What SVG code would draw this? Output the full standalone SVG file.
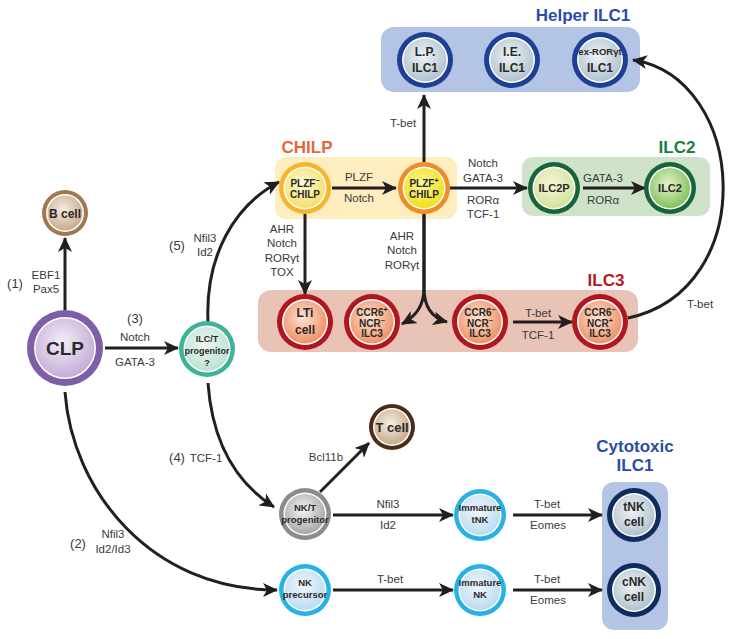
<svg xmlns="http://www.w3.org/2000/svg" width="743" height="639" viewBox="0 0 743 639">
<defs>
<style>
.lbl{font-family:"Liberation Sans",Arial,sans-serif;font-size:11.5px;fill:#3a3a3a;text-anchor:middle}
.num{font-family:"Liberation Sans",Arial,sans-serif;font-size:13px;fill:#3a3a3a;text-anchor:middle}
.nd{font-family:"Liberation Sans",Arial,sans-serif;font-weight:bold;fill:#2a2a2a;text-anchor:middle}
.ttl{font-family:"Liberation Sans",Arial,sans-serif;font-weight:bold;font-size:17px;text-anchor:middle}
.con{fill:none;stroke:#231f20;stroke-width:3}
.sup{font-size:7px}
</style>
<marker id="ah" markerUnits="userSpaceOnUse" markerWidth="16" markerHeight="14" refX="14" refY="7" orient="auto">
<path d="M0,0 L15,7 L0,14 L4,7 z" fill="#231f20"/>
</marker>
<radialGradient id="gHelp" cx="45%" cy="40%" r="60%"><stop offset="0" stop-color="#eef3f6"/><stop offset="1" stop-color="#b2c3ce"/></radialGradient>
<radialGradient id="gPm" cx="45%" cy="40%" r="60%"><stop offset="0" stop-color="#fefbdb"/><stop offset="1" stop-color="#f5df6a"/></radialGradient>
<radialGradient id="gPp" cx="45%" cy="40%" r="60%"><stop offset="0" stop-color="#fbf6a0"/><stop offset="1" stop-color="#f1e01a"/></radialGradient>
<radialGradient id="gI2p" cx="45%" cy="40%" r="60%"><stop offset="0" stop-color="#f8f7da"/><stop offset="1" stop-color="#d2e39c"/></radialGradient>
<radialGradient id="gI2" cx="45%" cy="40%" r="60%"><stop offset="0" stop-color="#e6f3cf"/><stop offset="1" stop-color="#83c25c"/></radialGradient>
<radialGradient id="gI3" cx="45%" cy="40%" r="60%"><stop offset="0" stop-color="#fde4d2"/><stop offset="1" stop-color="#ef9066"/></radialGradient>
<radialGradient id="gClp" cx="45%" cy="40%" r="60%"><stop offset="0" stop-color="#f3edf7"/><stop offset="1" stop-color="#c4afd8"/></radialGradient>
<radialGradient id="gIlct" cx="45%" cy="40%" r="60%"><stop offset="0" stop-color="#eff8f3"/><stop offset="1" stop-color="#bce1d3"/></radialGradient>
<radialGradient id="gBr" cx="45%" cy="40%" r="60%"><stop offset="0" stop-color="#f5eee5"/><stop offset="1" stop-color="#c8ab8a"/></radialGradient>
<radialGradient id="gGr" cx="45%" cy="40%" r="60%"><stop offset="0" stop-color="#f4f4f4"/><stop offset="1" stop-color="#a8a8a8"/></radialGradient>
<radialGradient id="gBl" cx="45%" cy="40%" r="60%"><stop offset="0" stop-color="#f0f7fc"/><stop offset="1" stop-color="#bcdcf1"/></radialGradient>
</defs>
<rect width="743" height="639" fill="#ffffff"/>

<!-- group boxes -->
<g id="boxes">
<rect x="381" y="27" width="259" height="65" rx="13" fill="#b3c4e5"/>
<rect x="275" y="157" width="182" height="62" rx="11" fill="#fdedbf"/>
<rect x="522" y="157" width="188" height="59" rx="11" fill="#cfe2ca"/>
<rect x="258" y="290" width="380" height="62" rx="13" fill="#e9c3b6"/>
<rect x="602" y="482" width="66" height="148" rx="12" fill="#b3c4e5"/>
<text class="ttl" x="583" y="21" fill="#2b4da3" font-size="16">Helper ILC1</text>
<text class="ttl" x="307" y="153" fill="#e8653a">CHILP</text>
<text class="ttl" x="677" y="153" fill="#17803d">ILC2</text>
<text class="ttl" x="606" y="286" fill="#b31b24">ILC3</text>
<text class="ttl" x="635" y="452" fill="#2b4da3" font-size="16">Cytotoxic</text>
<text class="ttl" x="635" y="471" fill="#2b4da3" font-size="16">ILC1</text>
</g>

<!-- connectors -->
<g id="connectors">
<path class="con" marker-end="url(#ah)" d="M65,310 L65,238"/>
<path class="con" marker-end="url(#ah)" d="M105,348 L178,348"/>
<path class="con" marker-end="url(#ah)" d="M208,322 C205,255 235,205 279,182"/>
<path class="con" marker-end="url(#ah)" d="M208,383 C212,440 235,482 274,507"/>
<path class="con" marker-end="url(#ah)" d="M65,392 C72,490 150,590 277,590"/>
<path class="con" marker-end="url(#ah)" d="M332,188 L396,188"/>
<path class="con" marker-end="url(#ah)" d="M450,188 L527,188"/>
<path class="con" marker-end="url(#ah)" d="M583,188 L645,188"/>
<path class="con" marker-end="url(#ah)" d="M424,162 L424,95"/>
<path class="con" marker-end="url(#ah)" d="M305,214 L305,294"/>
<path class="con" marker-end="url(#ah)" d="M424,214 L424,288 C424,306 416,316 402,324"/>
<path class="con" marker-end="url(#ah)" d="M424,214 L424,288 C424,306 432,318 447,322"/>
<path class="con" marker-end="url(#ah)" d="M513,322 L572,322"/>
<path class="con" marker-end="url(#ah)" d="M628,318 C760,290 748,78 633,60"/>
<path class="con" marker-end="url(#ah)" d="M320,492 L369,443"/>
<path class="con" marker-end="url(#ah)" d="M333,515 L453,515"/>
<path class="con" marker-end="url(#ah)" d="M513,515 L602,515"/>
<path class="con" marker-end="url(#ah)" d="M333,590 L453,590"/>
<path class="con" marker-end="url(#ah)" d="M513,590 L602,590"/>
</g>

<!-- connector labels -->
<g id="labels">
<text class="num" x="15" y="288">(1)</text>
<text class="lbl" x="46" y="279">EBF1</text>
<text class="lbl" x="46" y="293">Pax5</text>
<text class="num" x="135" y="323">(3)</text>
<text class="lbl" x="135" y="341">Notch</text>
<text class="lbl" x="135" y="366">GATA-3</text>
<text class="num" x="177" y="250">(5)</text>
<text class="lbl" x="205" y="242">Nfil3</text>
<text class="lbl" x="205" y="256">Id2</text>
<text class="num" x="177" y="462">(4)</text>
<text class="lbl" x="206" y="462">TCF-1</text>
<text class="num" x="78" y="548">(2)</text>
<text class="lbl" x="113" y="538">Nfil3</text>
<text class="lbl" x="113" y="553">Id2/Id3</text>
<text class="lbl" x="359" y="181">PLZF</text>
<text class="lbl" x="359" y="202">Notch</text>
<text class="lbl" x="483" y="167">Notch</text>
<text class="lbl" x="483" y="182">GATA-3</text>
<text class="lbl" x="483" y="204">RORα</text>
<text class="lbl" x="483" y="218">TCF-1</text>
<text class="lbl" x="282" y="233">AHR</text>
<text class="lbl" x="282" y="247">Notch</text>
<text class="lbl" x="282" y="262">RORγt</text>
<text class="lbl" x="282" y="276">TOX</text>
<text class="lbl" x="402" y="240">AHR</text>
<text class="lbl" x="402" y="254">Notch</text>
<text class="lbl" x="402" y="269">RORγt</text>
<text class="lbl" x="403" y="127">T-bet</text>
<text class="lbl" x="603" y="182">GATA-3</text>
<text class="lbl" x="603" y="204">RORα</text>
<text class="lbl" x="538" y="317">T-bet</text>
<text class="lbl" x="538" y="339">TCF-1</text>
<text class="lbl" x="700" y="308">T-bet</text>
<text class="lbl" x="326" y="461">Bcl11b</text>
<text class="lbl" x="388" y="508">Nfil3</text>
<text class="lbl" x="388" y="529">Id2</text>
<text class="lbl" x="547" y="508">T-bet</text>
<text class="lbl" x="548" y="529">Eomes</text>
<text class="lbl" x="390" y="583">T-bet</text>
<text class="lbl" x="547" y="583">T-bet</text>
<text class="lbl" x="548" y="604">Eomes</text>
</g>

<!-- nodes -->
<g id="n-lp">
<circle cx="425" cy="60" r="28" fill="#1d3f94"/><circle cx="425" cy="60" r="23" fill="#fff"/><circle cx="425" cy="60" r="21.5" fill="url(#gHelp)"/>
<text class="nd" x="425" y="56" font-size="12">L.P.</text><text class="nd" x="425" y="72" font-size="12">ILC1</text>
</g>
<g id="n-ie">
<circle cx="512" cy="60" r="28" fill="#1d3f94"/><circle cx="512" cy="60" r="23" fill="#fff"/><circle cx="512" cy="60" r="21.5" fill="url(#gHelp)"/>
<text class="nd" x="512" y="56" font-size="12">I.E.</text><text class="nd" x="512" y="72" font-size="12">ILC1</text>
</g>
<g id="n-ex">
<circle cx="600" cy="60" r="28" fill="#1d3f94"/><circle cx="600" cy="60" r="23" fill="#fff"/><circle cx="600" cy="60" r="21.5" fill="url(#gHelp)"/>
<text class="nd" x="600" y="55" font-size="9.5">ex-RORγt</text><text class="nd" x="600" y="72" font-size="12">ILC1</text>
</g>
<g id="n-plzfm">
<circle cx="305" cy="188" r="26" fill="#f7b52b"/><circle cx="305" cy="188" r="21.5" fill="#fff"/><circle cx="305" cy="188" r="20" fill="url(#gPm)"/>
<text class="nd" x="305" y="186.5" font-size="10">PLZF<tspan class="sup" dy="-4">−</tspan></text><text class="nd" x="305" y="197.5" font-size="10">CHILP</text>
</g>
<g id="n-plzfp">
<circle cx="424" cy="188" r="26" fill="#f08b25"/><circle cx="424" cy="188" r="21.5" fill="#fff"/><circle cx="424" cy="188" r="20" fill="url(#gPp)"/>
<text class="nd" x="424" y="186.5" font-size="10">PLZF<tspan class="sup" dy="-4">+</tspan></text><text class="nd" x="424" y="197.5" font-size="10">CHILP</text>
</g>
<g id="n-ilc2p">
<circle cx="554" cy="188" r="26" fill="#16643a"/><circle cx="554" cy="188" r="21.5" fill="#fff"/><circle cx="554" cy="188" r="20" fill="url(#gI2p)"/>
<text class="nd" x="554" y="192" font-size="11">ILC2P</text>
</g>
<g id="n-ilc2">
<circle cx="670" cy="188" r="26" fill="#16643a"/><circle cx="670" cy="188" r="21.5" fill="#fff"/><circle cx="670" cy="188" r="20" fill="url(#gI2)"/>
<text class="nd" x="670" y="192" font-size="11">ILC2</text>
</g>
<g id="n-lti">
<circle cx="305" cy="322" r="28" fill="#b0161f"/><circle cx="305" cy="322" r="23" fill="#fff"/><circle cx="305" cy="322" r="21.5" fill="url(#gI3)"/>
<text class="nd" x="305" y="317" font-size="12">LTi</text><text class="nd" x="305" y="334" font-size="12">cell</text>
</g>
<g id="n-ccr6p">
<circle cx="372" cy="322" r="28" fill="#b0161f"/><circle cx="372" cy="322" r="23" fill="#fff"/><circle cx="372" cy="322" r="21.5" fill="url(#gI3)"/>
<text class="nd" x="372" y="315.5" font-size="10">CCR6<tspan class="sup" dy="-4">+</tspan></text><text class="nd" x="372" y="326.5" font-size="10">NCR<tspan class="sup" dy="-4">−</tspan></text><text class="nd" x="372" y="337" font-size="10">ILC3</text>
</g>
<g id="n-ccr6mm">
<circle cx="480" cy="322" r="28" fill="#b0161f"/><circle cx="480" cy="322" r="23" fill="#fff"/><circle cx="480" cy="322" r="21.5" fill="url(#gI3)"/>
<text class="nd" x="480" y="315.5" font-size="10">CCR6<tspan class="sup" dy="-4">−</tspan></text><text class="nd" x="480" y="326.5" font-size="10">NCR<tspan class="sup" dy="-4">−</tspan></text><text class="nd" x="480" y="337" font-size="10">ILC3</text>
</g>
<g id="n-ccr6mp">
<circle cx="600" cy="322" r="28" fill="#b0161f"/><circle cx="600" cy="322" r="23" fill="#fff"/><circle cx="600" cy="322" r="21.5" fill="url(#gI3)"/>
<text class="nd" x="600" y="315.5" font-size="10">CCR6<tspan class="sup" dy="-4">−</tspan></text><text class="nd" x="600" y="326.5" font-size="10">NCR<tspan class="sup" dy="-4">+</tspan></text><text class="nd" x="600" y="337" font-size="10">ILC3</text>
</g>
<g id="n-clp">
<circle cx="65" cy="348" r="38" fill="#7e5ea8"/><circle cx="65" cy="348" r="31" fill="#fff"/><circle cx="65" cy="348" r="29.5" fill="url(#gClp)"/>
<text class="nd" x="65" y="355" font-size="19">CLP</text>
</g>
<g id="n-bcell">
<circle cx="65" cy="213" r="23" fill="#a07850"/><circle cx="65" cy="213" r="19" fill="#fff"/><circle cx="65" cy="213" r="17.5" fill="url(#gBr)"/>
<text class="nd" x="65" y="217.5" font-size="12">B cell</text>
</g>
<g id="n-ilct">
<circle cx="207" cy="349" r="28" fill="#3db497"/><circle cx="207" cy="349" r="23.5" fill="#fff"/><circle cx="207" cy="349" r="22" fill="url(#gIlct)"/>
<text class="nd" x="207" y="341.5" font-size="9">ILC/T</text><text class="nd" x="207" y="353.5" font-size="9">progenitor</text><text class="nd" x="207" y="365.5" font-size="9">?</text>
</g>
<g id="n-tcell">
<circle cx="392" cy="427" r="23" fill="#4a2c18"/><circle cx="392" cy="427" r="19" fill="#fff"/><circle cx="392" cy="427" r="17.5" fill="url(#gBr)"/>
<text class="nd" x="392" y="432" font-size="13">T cell</text>
</g>
<g id="n-nkt">
<circle cx="305" cy="514" r="26" fill="#8c8c8c"/><circle cx="305" cy="514" r="21.5" fill="#fff"/><circle cx="305" cy="514" r="20" fill="url(#gGr)"/>
<text class="nd" x="305" y="511" font-size="9.5">NK/T</text><text class="nd" x="305" y="523" font-size="9.5">progenitor</text>
</g>
<g id="n-imtnk">
<circle cx="480" cy="515" r="26" fill="#27b2e6"/><circle cx="480" cy="515" r="21.5" fill="#fff"/><circle cx="480" cy="515" r="20" fill="url(#gBl)"/>
<text class="nd" x="480" y="511" font-size="9.5">Immature</text><text class="nd" x="480" y="523" font-size="9.5">tNK</text>
</g>
<g id="n-nkp">
<circle cx="305" cy="590" r="26" fill="#27b2e6"/><circle cx="305" cy="590" r="21.5" fill="#fff"/><circle cx="305" cy="590" r="20" fill="url(#gBl)"/>
<text class="nd" x="305" y="586" font-size="9.5">NK</text><text class="nd" x="305" y="598" font-size="9.5">precursor</text>
</g>
<g id="n-imnk">
<circle cx="480" cy="590" r="26" fill="#27b2e6"/><circle cx="480" cy="590" r="21.5" fill="#fff"/><circle cx="480" cy="590" r="20" fill="url(#gBl)"/>
<text class="nd" x="480" y="586" font-size="9.5">Immature</text><text class="nd" x="480" y="598" font-size="9.5">NK</text>
</g>
<g id="n-tnk">
<circle cx="634" cy="515" r="27" fill="#0f2c5e"/><circle cx="634" cy="515" r="22" fill="#fff"/><circle cx="634" cy="515" r="20.5" fill="url(#gHelp)"/>
<text class="nd" x="634" y="511" font-size="12">tNK</text><text class="nd" x="634" y="526" font-size="12">cell</text>
</g>
<g id="n-cnk">
<circle cx="634" cy="590" r="27" fill="#0f2c5e"/><circle cx="634" cy="590" r="22" fill="#fff"/><circle cx="634" cy="590" r="20.5" fill="url(#gHelp)"/>
<text class="nd" x="634" y="586" font-size="12">cNK</text><text class="nd" x="634" y="601" font-size="12">cell</text>
</g>
</svg>
